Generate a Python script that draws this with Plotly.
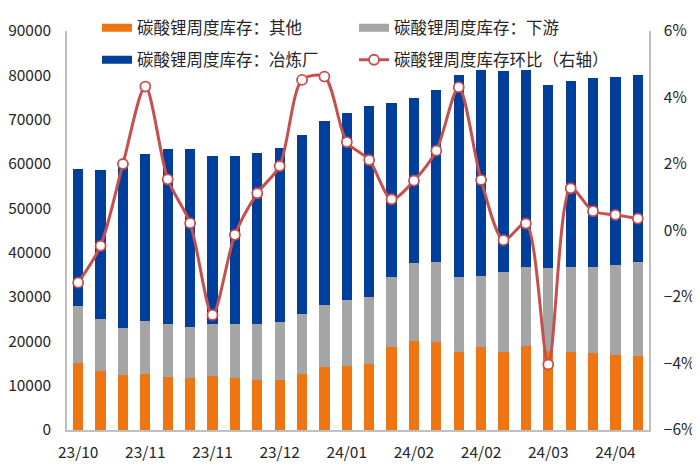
import plotly.graph_objects as go

x_idx = list(range(26))
tick_pos = [0, 3, 6, 9, 12, 15, 18, 21, 24]
tick_labels = ["23/10", "23/11", "23/11", "23/12", "24/01", "24/02", "24/02", "24/03", "24/04"]

# stacked totals (top of each segment)
total_top = [58800, 58580, 60200, 62340, 63320, 63320, 61740, 61740, 62570, 63700,
             66550, 69710, 71480, 73020, 73840, 74830, 76630, 80020, 81150, 80990,
             81150, 77900, 78800, 79410, 79640, 80020]
grey_top = [27970, 25040, 23080, 24660, 23910, 23240, 23840, 23910, 23990, 24440,
            26240, 28200, 29220, 30000, 34520, 37750, 37900, 34520, 34740, 35720,
            36700, 36550, 36700, 36700, 37150, 37900]
other = [15190, 13380, 12410, 12560, 12030, 11660, 12260, 11660, 11210, 11210,
         12560, 14140, 14520, 14820, 18720, 20150, 19920, 17670, 18720, 17670,
         18950, 17750, 17670, 17300, 16920, 16690]
wow_pct = [-1.57, -0.46, 2.00, 4.33, 1.54, 0.22, -2.54, -0.13, 1.12, 1.94,
           4.53, 4.63, 2.66, 2.12, 0.94, 1.50, 2.40, 4.31, 1.52, -0.29,
           0.21, -4.03, 1.27, 0.58, 0.47, 0.36]

names = ["碳酸锂周度库存：其他", "碳酸锂周度库存：下游", "碳酸锂周度库存：冶炼厂", "碳酸锂周度库存环比（右轴）"]
colors = ["#EE7512", "#A5A5A5", "#003E9B", "#C5504D"]

downstream = [g - o for g, o in zip(grey_top, other)]
smelter = [t - g for t, g in zip(total_top, grey_top)]

font_family = "Noto Sans CJK SC"
bar_w = 0.46

fig = go.Figure()
for vals, col, nm in [(other, colors[0], names[0]), (downstream, colors[1], names[1]),
                      (smelter, colors[2], names[2])]:
    fig.add_trace(go.Bar(x=x_idx, y=vals, name=nm, width=bar_w, showlegend=False,
                         marker=dict(color=col, line=dict(width=0))))
fig.add_trace(go.Scatter(x=x_idx, y=wow_pct, name=names[3], yaxis="y2",
                         mode="lines+markers", line=dict(color=colors[3], width=3, shape="spline", smoothing=0.8),
                         marker=dict(symbol="circle", size=10, color="white",
                                     line=dict(color=colors[3], width=1.8)),
                         legend="legend2"))

# legend entries drawn as wide rectangles (like the reference)
for i, leg in [(0, "legend"), (1, "legend"), (2, "legend2")]:
    fig.add_trace(go.Scatter(x=[None], y=[None], mode="lines", name=names[i],
                             line=dict(color=colors[i], width=8), legend=leg,
                             legendrank=i, hoverinfo="skip"))
fig.data[3].legendrank = 10

W, H = 692, 459  # page has 8px body margin
leg_common = dict(orientation="h", xanchor="left", yanchor="middle", yref="container",
                  xref="container", entrywidth=212, entrywidthmode="pixels",
                  font=dict(size=16.5), bgcolor="rgba(0,0,0,0)", traceorder="normal")

fig.update_layout(
    width=W, height=H,
    margin=dict(l=59, r=51, t=23, b=37, autoexpand=False),
    barmode="stack",
    plot_bgcolor="white", paper_bgcolor="white",
    font=dict(family=font_family, size=15.5, color="#262626"),
    xaxis=dict(range=[-0.5, 25.5], tickmode="array", tickvals=tick_pos, ticktext=tick_labels,
               showline=True, linecolor="#BFBFBF", linewidth=1.5, showgrid=False, zeroline=False,
               ticks="", ticklabelstandoff=8, tickfont=dict(size=15.5)),
    yaxis=dict(range=[0, 90000], dtick=10000, tickformat="d", showgrid=False, zeroline=False,
               showline=True, linecolor="#BFBFBF", linewidth=1.5, ticks="", ticklabelstandoff=11,
               tickfont=dict(size=15.5)),
    yaxis2=dict(range=[-6, 6], dtick=2, ticksuffix="%", overlaying="y", side="right",
                showgrid=False, zeroline=False, showline=True, linecolor="#BFBFBF", linewidth=1.5,
                ticks="", ticklabelstandoff=10, tickfont=dict(size=15.5)),
    legend=dict(x=89 / W, y=1 - 20 / H, **leg_common),
    legend2=dict(x=89 / W, y=1 - 52 / H, **leg_common),
    bargap=0.5,
)

fig.write_html("out.html")
